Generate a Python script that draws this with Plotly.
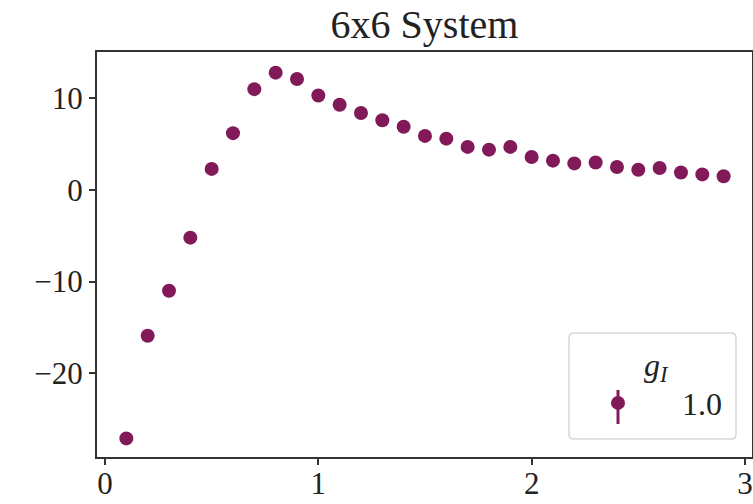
import plotly.graph_objects as go

# ---- data ----
x_vals = [0.1, 0.2, 0.3, 0.4, 0.5, 0.6, 0.7, 0.8, 0.9, 1.0,
          1.1, 1.2, 1.3, 1.4, 1.5, 1.6, 1.7, 1.8, 1.9, 2.0,
          2.1, 2.2, 2.3, 2.4, 2.5, 2.6, 2.7, 2.8, 2.9]
y_vals = [-27.1, -15.9, -11.0, -5.2, 2.3, 6.2, 11.0, 12.8, 12.1, 10.3,
          9.3, 8.4, 7.6, 6.9, 5.9, 5.6, 4.7, 4.4, 4.7, 3.6,
          3.2, 2.9, 3.0, 2.5, 2.2, 2.4, 1.9, 1.7, 1.5]
y_err = [0.3, 0.3, 0.3, 0.3, 0.3, 0.3, 0.3, 0.3, 0.3, 0.3,
         0.3, 0.3, 0.3, 0.3, 0.3, 0.3, 0.3, 0.3, 0.3, 0.3,
         0.3, 0.3, 0.3, 0.3, 0.3, 0.3, 0.3, 0.3, 0.3]
series_name = "1.0"
legend_title = "\u00a0\u00a0\u00a0\u00a0<i>g</i><sub><i>I</i></sub>"
chart_title = "6x6 System"
x_ticks = [0, 1, 2, 3]
y_ticks = [-20, -10, 0, 10]

COLOR = "#821a5a"
FONT = "Liberation Serif"
W, H = 753, 504
ML, MR, MT, MB = 97, 1, 52, 47
PW, PH = W - ML - MR, H - MT - MB

fig = go.Figure()
fig.add_trace(go.Scatter(
    x=x_vals, y=y_vals, mode="markers", name=series_name,
    marker=dict(color=COLOR, size=14, line=dict(width=0)),
    error_y=dict(type="data", array=y_err, color=COLOR, thickness=2.5, width=0),
))

def px2paper_x(p):
    return (p - ML) / PW

def px2paper_y(p):
    return (H - MB - p) / PH

# rounded legend frame
x0, x1 = px2paper_x(569), px2paper_x(736)
y0, y1 = px2paper_y(439), px2paper_y(333)
rx, ry = 5 / PW, 5 / PH
path = (f"M {x0+rx},{y0} L {x1-rx},{y0} Q {x1},{y0} {x1},{y0+ry} "
        f"L {x1},{y1-ry} Q {x1},{y1} {x1-rx},{y1} L {x0+rx},{y1} "
        f"Q {x0},{y1} {x0},{y1-ry} L {x0},{y0+ry} Q {x0},{y0} {x0+rx},{y0} Z")
fig.add_shape(type="path", path=path, xref="paper", yref="paper",
              line=dict(color="#d6d6d6", width=1.5), fillcolor="rgba(255,255,255,0.8)",
              layer="above")
# error-bar stroke of the legend key
fig.add_shape(type="line", xref="paper", yref="paper",
              x0=px2paper_x(618), x1=px2paper_x(618),
              y0=px2paper_y(390), y1=px2paper_y(424),
              line=dict(color=COLOR, width=3), layer="above")

fig.update_layout(
    width=W, height=H,
    margin=dict(l=ML, r=MR, t=MT, b=MB, pad=0, autoexpand=False),
    paper_bgcolor="white", plot_bgcolor="white",
    font=dict(family=FONT, size=31, color="#222222"),
    title=dict(text=chart_title, x=0.5 * (ML + W - MR) / W, xanchor="center",
               y=1 - 24 / H, yanchor="middle",
               font=dict(family=FONT, size=40, color="#222222")),
    showlegend=True,
    legend=dict(
        x=px2paper_x(554), y=px2paper_y(334), xanchor="left", yanchor="top",
        bgcolor="rgba(0,0,0,0)", borderwidth=0,
        itemwidth=118,
        font=dict(family=FONT, size=32, color="#222222"),
        title=dict(text=legend_title, side="top center",
                   font=dict(family=FONT, size=32, color="#222222")),
    ),
    xaxis=dict(range=[-0.0375, 3.033], tickvals=x_ticks, ticks="outside",
               ticklen=6, tickwidth=1.5, tickcolor="#333333",
               ticklabelstandoff=-8,
               showline=True, linecolor="#333333", linewidth=2, mirror=True,
               showgrid=False, zeroline=False, automargin=False),
    yaxis=dict(range=[-29.13, 15.05], tickvals=y_ticks, ticks="outside",
               ticklen=6, tickwidth=1.5, tickcolor="#333333",
               showline=True, linecolor="#333333", linewidth=2, mirror=True,
               showgrid=False, zeroline=False, automargin=False),
)

fig.write_html("out.html", config={"displayModeBar": False},
               post_script="document.body.style.margin='0';document.body.style.overflow='hidden';")
